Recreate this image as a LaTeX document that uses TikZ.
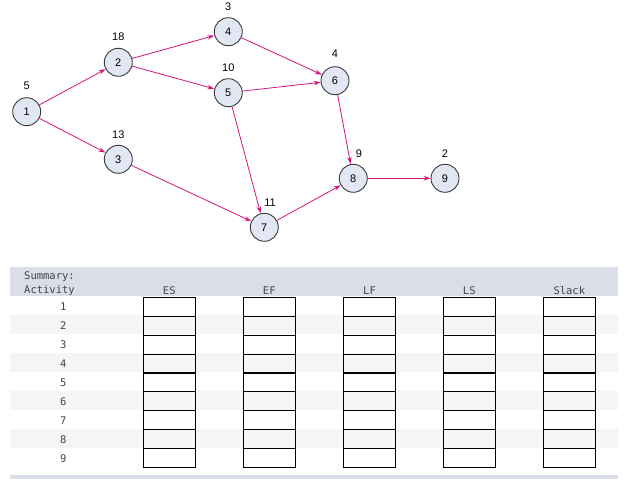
\documentclass[tikz,border=0pt]{standalone}
\usepackage{fontspec}
\setmainfont{Liberation Sans}
\newfontfamily\tabfont{DejaVu Sans Mono}
\usetikzlibrary{arrows.meta}
\definecolor{arrowc}{HTML}{D4147F}
\definecolor{nodefill}{HTML}{E1E7F3}
\definecolor{nodeline}{HTML}{3A3A3A}
\definecolor{hdrband}{HTML}{D9DEE8}
\definecolor{rowband}{HTML}{F5F5F5}
\definecolor{tabtext}{HTML}{444444}
\tikzset{
  evt/.style={circle,draw=nodeline,fill=nodefill,line width=0.9pt,minimum size=28pt,inner sep=0pt,font=\fontsize{11}{13}\selectfont},
  dur/.style={font=\fontsize{11}{13}\selectfont,inner sep=0pt},
  act/.style={draw=arrowc,line width=0.8pt,-{Stealth[length=7pt,width=4.5pt]}},
  cell/.style={draw=black,line width=0.9pt,minimum width=52pt,minimum height=19pt,inner sep=0pt},
  ttxt/.style={font=\tabfont\fontsize{10.5}{12}\selectfont,text=tabtext,inner sep=0pt}
}
\begin{document}
\begin{tikzpicture}[x=1pt,y=-1pt]
\useasboundingbox (0,0) rectangle (636,479);
% network
\node[evt] (n1) at (26.7,111.7) {1};
\node[evt] (n2) at (118.3,62.3) {2};
\node[evt] (n3) at (118.3,159.3) {3};
\node[evt] (n4) at (228.3,31.7) {4};
\node[evt] (n5) at (228.3,92.7) {5};
\node[evt] (n6) at (335,80.7) {6};
\node[evt] (n7) at (264.3,227.3) {7};
\node[evt] (n8) at (353.3,178.3) {8};
\node[evt] (n9) at (445,178.3) {9};
\node[dur] (d1) at (26.7,85.7) {5};
\node[dur] (d2) at (118.3,36.7) {18};
\node[dur] (d3) at (118.3,135) {13};
\node[dur] (d4) at (228.3,6.7) {3};
\node[dur] (d5) at (228.3,67.3) {10};
\node[dur] (d6) at (335,54) {4};
\node[dur] (d7) at (270,202.3) {11};
\node[dur] (d8) at (359,153.3) {9};
\node[dur] (d9) at (445,153.3) {2};
\draw[act] (n1) -- (n2);
\draw[act] (n1) -- (n3);
\draw[act] (n2) -- (n4);
\draw[act] (n2) -- (n5);
\draw[act] (n4) -- (n6);
\draw[act] (n5) -- (n6);
\draw[act] (n5) -- (n7);
\draw[act] (n3) -- (n7);
\draw[act] (n6) -- (n8);
\draw[act] (n7) -- (n8);
\draw[act] (n8) -- (n9);
% table bands
\fill[hdrband] (10,267.3) rectangle (618.3,296);
\foreach \r in {2,4,6,8} {
  \fill[rowband] (10,{296+(\r-1)*19}) rectangle (618.3,{296+\r*19});
}
\fill[hdrband] (10,475) rectangle (618.3,479);
\node[ttxt,anchor=west] (sum) at (24,276.7) {Summary:};
\node[ttxt,anchor=west] (actv) at (24,291) {Activity};
\node[ttxt] (hES) at (169.3,291) {ES};
\node[ttxt] (hEF) at (269.3,291) {EF};
\node[ttxt] (hLF) at (369.5,291) {LF};
\node[ttxt] (hLS) at (469.3,291) {LS};
\node[ttxt] (hSl) at (569.3,291) {Slack};
\foreach \r in {1,...,9} {
  \node[ttxt] (a\r) at (63.3,{297.3+(\r-0.5)*19}) {\r};
  \foreach \c/\x in {ES/169.3,EF/269.3,LF/369.5,LS/469.3,SL/569.3} {
    \node[cell] (c\c\r) at (\x,{297.3+(\r-0.5)*18.9}) {};
  }
}
\end{tikzpicture}
\end{document}
